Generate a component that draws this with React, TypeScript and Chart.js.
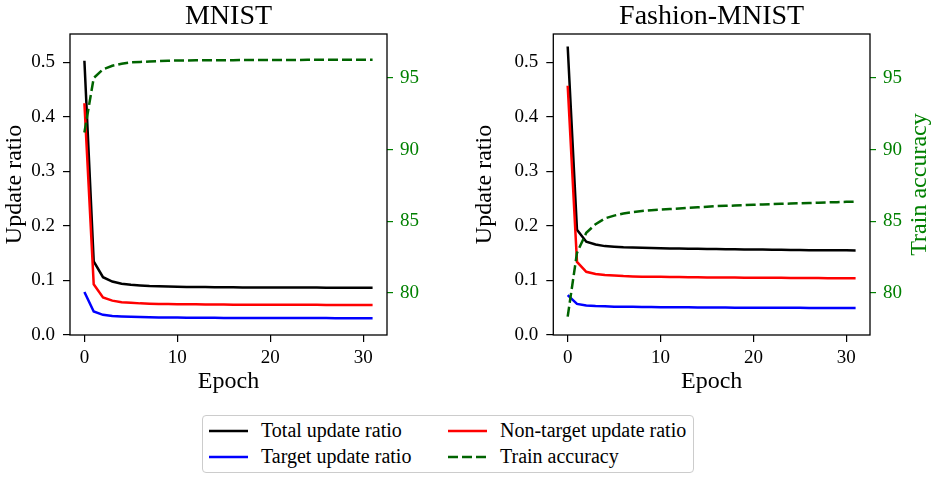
import { useEffect, useRef } from "react";
import { Chart, registerables } from "chart.js";

Chart.register(...registerables);

const SERIF = "Liberation Serif";
Chart.defaults.font.family = SERIF;

const epochs = [
  0, 1, 2, 3, 4, 5, 6, 7, 8, 9, 10, 11, 12, 13, 14, 15, 16, 17, 18, 19, 20,
  21, 22, 23, 24, 25, 26, 27, 28, 29, 30, 31,
];

const xTicks = [0, 10, 20, 30];
const ratioTicks = [0, 0.1, 0.2, 0.3, 0.4, 0.5];
const accTicks = [80, 85, 90, 95];

// MNIST
const mnistTotal = [
  0.503, 0.135, 0.106, 0.098, 0.094, 0.092, 0.091, 0.09, 0.0895, 0.089,
  0.0885, 0.088, 0.088, 0.0878, 0.0876, 0.0875, 0.0874, 0.0873, 0.0872,
  0.0872, 0.0871, 0.087, 0.087, 0.087, 0.0869, 0.0869, 0.0868, 0.0868,
  0.0868, 0.0867, 0.0867, 0.0867,
];
const mnistNonTarget = [
  0.425, 0.093, 0.069, 0.063, 0.06, 0.059, 0.058, 0.0575, 0.057, 0.0568,
  0.0565, 0.0563, 0.0562, 0.056, 0.056, 0.0558, 0.0557, 0.0556, 0.0556,
  0.0555, 0.0555, 0.0554, 0.0554, 0.0553, 0.0553, 0.0553, 0.0552, 0.0552,
  0.0552, 0.0551, 0.0551, 0.0551,
];
const mnistTarget = [
  0.079, 0.043, 0.037, 0.035, 0.034, 0.0333, 0.0328, 0.0325, 0.0322, 0.032,
  0.0319, 0.0318, 0.0317, 0.0316, 0.0315, 0.0314, 0.0313, 0.0313, 0.0312,
  0.0312, 0.0311, 0.0311, 0.0311, 0.031, 0.031, 0.031, 0.031, 0.0309, 0.0309,
  0.0309, 0.0309, 0.0308,
];
const mnistAcc = [
  91.2, 95.0, 95.6, 95.85, 96.0, 96.1, 96.12, 96.15, 96.18, 96.2, 96.22,
  96.22, 96.23, 96.23, 96.24, 96.24, 96.24, 96.25, 96.25, 96.25, 96.25,
  96.26, 96.26, 96.26, 96.27, 96.27, 96.27, 96.27, 96.28, 96.28, 96.28,
  96.28,
];

// Fashion-MNIST
const fashionTotal = [
  0.529, 0.193, 0.171, 0.166, 0.163, 0.162, 0.161, 0.1605, 0.16, 0.1595,
  0.159, 0.1588, 0.1585, 0.1583, 0.158, 0.1578, 0.1576, 0.1574, 0.1572,
  0.157, 0.1568, 0.1566, 0.1564, 0.1562, 0.156, 0.1558, 0.1556, 0.1555,
  0.1554, 0.1553, 0.1552, 0.1551,
];
const fashionNonTarget = [
  0.457, 0.134, 0.116, 0.112, 0.11, 0.109, 0.108, 0.1075, 0.107, 0.1068,
  0.1066, 0.1064, 0.1062, 0.106, 0.1058, 0.1056, 0.1055, 0.1054, 0.1053,
  0.1052, 0.1051, 0.105, 0.1049, 0.1048, 0.1047, 0.1046, 0.1045, 0.1044,
  0.1043, 0.1042, 0.1041, 0.104,
];
const fashionTarget = [
  0.073, 0.057, 0.054, 0.053, 0.0525, 0.052, 0.0518, 0.0516, 0.0514, 0.0512,
  0.051, 0.0509, 0.0508, 0.0507, 0.0506, 0.0505, 0.0504, 0.0503, 0.0502,
  0.0501, 0.05, 0.05, 0.0499, 0.0499, 0.0498, 0.0498, 0.0497, 0.0497, 0.0496,
  0.0496, 0.0495, 0.0495,
];
const fashionAcc = [
  78.35, 82.8, 84.2, 84.8, 85.2, 85.4, 85.55, 85.65, 85.72, 85.78, 85.82,
  85.86, 85.9, 85.94, 85.98, 86.02, 86.06, 86.08, 86.1, 86.13, 86.16, 86.18,
  86.2, 86.22, 86.24, 86.26, 86.28, 86.3, 86.32, 86.34, 86.36, 86.37,
];

const BLACK = "#000000";
const RED = "#ff0000";
const BLUE = "#0000ff";
const GREEN_LINE = "#006400";
const GREEN_TEXT = "#008000";

const tickFont = { family: SERIF, size: 19 };
const labelFont = { family: SERIF, size: 24 };

type PanelProps = {
  title: string;
  total: number[];
  nonTarget: number[];
  target: number[];
  acc: number[];
  leftW: number;
  rightW: number;
  rightTitle?: string;
  left: number;
};

const pts = (ys: number[]) => ys.map((y, i) => ({ x: epochs[i], y }));

function Panel(p: PanelProps) {
  const ref = useRef<HTMLCanvasElement | null>(null);

  useEffect(() => {
    if (!ref.current) return;

    // frame, centred title and the upward-reading right axis title
    const decor = {
      id: "decor",
      afterDraw(chart: Chart) {
        const { ctx, chartArea: a } = chart;
        ctx.save();
        ctx.strokeStyle = "#000";
        ctx.lineWidth = 1.3;
        ctx.strokeRect(a.left, a.top, a.right - a.left, a.bottom - a.top);
        ctx.fillStyle = "#000";
        ctx.font = `28px "${SERIF}"`;
        ctx.textAlign = "center";
        ctx.textBaseline = "alphabetic";
        ctx.fillText(p.title, (a.left + a.right) / 2, 24);
        if (p.rightTitle) {
          ctx.font = `24px "${SERIF}"`;
          ctx.fillStyle = GREEN_TEXT;
          ctx.translate(a.right + 56, (a.top + a.bottom) / 2);
          ctx.rotate(-Math.PI / 2);
          ctx.fillText(p.rightTitle, 0, 0);
        }
        ctx.restore();
      },
    };

    const line = (label: string, data: number[], color: string, order: number) => ({
      label,
      data: pts(data),
      borderColor: color,
      backgroundColor: color,
      borderWidth: 2.5,
      pointRadius: 0,
      tension: 0,
      yAxisID: "y",
      order,
    });

    const chart = new Chart(ref.current, {
      type: "line",
      data: {
        datasets: [
          line("Total update ratio", p.total, BLACK, 3),
          line("Non-target update ratio", p.nonTarget, RED, 2),
          line("Target update ratio", p.target, BLUE, 1),
          {
            label: "Train accuracy",
            data: pts(p.acc),
            borderColor: GREEN_LINE,
            backgroundColor: GREEN_LINE,
            borderWidth: 2.5,
            borderDash: [10, 4],
            pointRadius: 0,
            tension: 0,
            yAxisID: "y2",
            order: 0,
          },
        ],
      },
      options: {
        responsive: false,
        animation: false,
        layout: { padding: { top: 34, left: 0, right: 0, bottom: 0 } },
        plugins: {
          legend: { display: false },
          tooltip: { enabled: false },
          title: { display: false },
        },
        scales: {
          x: {
            type: "linear",
            min: -1.55,
            max: 32.55,
            afterBuildTicks: (s: any) => {
              s.ticks = xTicks.map((v) => ({ value: v }));
            },
            afterFit: (s: any) => {
              s.height = 65;
            },
            ticks: { color: "#000", font: tickFont, padding: 5, maxRotation: 0 },
            grid: {
              drawOnChartArea: false,
              drawTicks: true,
              tickLength: 7,
              color: "#000",
              lineWidth: 1.2,
            },
            border: { display: false },
            title: {
              display: true,
              text: "Epoch",
              color: "#000",
              font: labelFont,
              padding: { top: 0, bottom: 4 },
            },
          },
          y: {
            type: "linear",
            position: "left",
            min: 0,
            max: 0.552,
            afterBuildTicks: (s: any) => {
              s.ticks = ratioTicks.map((v) => ({ value: v }));
            },
            afterFit: (s: any) => {
              s.width = p.leftW;
            },
            ticks: {
              color: "#000",
              font: tickFont,
              padding: 8,
              callback: (v: any) => Number(v).toFixed(1),
            },
            grid: {
              drawOnChartArea: false,
              drawTicks: true,
              tickLength: 7,
              color: "#000",
              lineWidth: 1.2,
            },
            border: { display: false },
            title: {
              display: true,
              text: "Update ratio",
              color: "#000",
              font: labelFont,
              padding: { top: 0, bottom: 0 },
            },
          },
          y2: {
            type: "linear",
            position: "right",
            min: 77.07,
            max: 98.07,
            afterBuildTicks: (s: any) => {
              s.ticks = accTicks.map((v) => ({ value: v }));
            },
            afterFit: (s: any) => {
              s.width = p.rightW;
            },
            ticks: {
              color: GREEN_TEXT,
              font: tickFont,
              padding: 7,
              callback: (v: any) => String(v),
            },
            grid: {
              drawOnChartArea: false,
              drawTicks: true,
              tickLength: 6,
              color: GREEN_TEXT,
              lineWidth: 1.2,
            },
            border: { display: false },
          },
        },
      },
      plugins: [decor],
    });

    return () => chart.destroy();
  }, [p]);

  return (
    <canvas
      ref={ref}
      width={465}
      height={400}
      style={{ position: "absolute", left: p.left, top: 0, width: 465, height: 400 }}
    />
  );
}

const legendItems = [
  { label: "Total update ratio", color: BLACK, dash: "", x: 7, y: 15 },
  { label: "Non-target update ratio", color: RED, dash: "", x: 246, y: 15 },
  { label: "Target update ratio", color: BLUE, dash: "", x: 7, y: 41 },
  { label: "Train accuracy", color: GREEN_LINE, dash: "10 4", x: 246, y: 41 },
];

function Legend() {
  return (
    <div
      style={{
        position: "absolute",
        left: 202,
        top: 415,
        width: 492,
        height: 58,
        border: "1px solid #cccccc",
        borderRadius: 4,
        boxSizing: "border-box",
        fontFamily: `"${SERIF}", serif`,
        fontSize: 20,
        color: "#000",
      }}
    >
      {legendItems.map((it) => (
        <div key={it.label}>
          <svg
            width={40}
            height={6}
            style={{ position: "absolute", left: it.x - 1, top: it.y - 3 }}
          >
            <line
              x1={0}
              y1={3}
              x2={39}
              y2={3}
              stroke={it.color}
              strokeWidth={2.5}
              strokeDasharray={it.dash || undefined}
            />
          </svg>
          <div
            style={{
              position: "absolute",
              left: it.x + 51,
              top: it.y - 13,
              height: 24,
              lineHeight: "24px",
              whiteSpace: "nowrap",
            }}
          >
            {it.label}
          </div>
        </div>
      ))}
    </div>
  );
}

const mnistPanel: PanelProps = {
  title: "MNIST",
  total: mnistTotal,
  nonTarget: mnistNonTarget,
  target: mnistTarget,
  acc: mnistAcc,
  leftW: 70,
  rightW: 78,
  left: 0,
};

const fashionPanel: PanelProps = {
  title: "Fashion-MNIST",
  total: fashionTotal,
  nonTarget: fashionNonTarget,
  target: fashionTarget,
  acc: fashionAcc,
  leftW: 83.3,
  rightW: 65,
  rightTitle: "Train accuracy",
  left: 470,
};

export default function App() {
  return (
    <div
      style={{
        position: "absolute",
        left: 0,
        top: 0,
        width: 935,
        height: 480,
        background: "#fff",
        overflow: "hidden",
      }}
    >
      <Panel {...mnistPanel} />
      <Panel {...fashionPanel} />
      <Legend />
    </div>
  );
}
